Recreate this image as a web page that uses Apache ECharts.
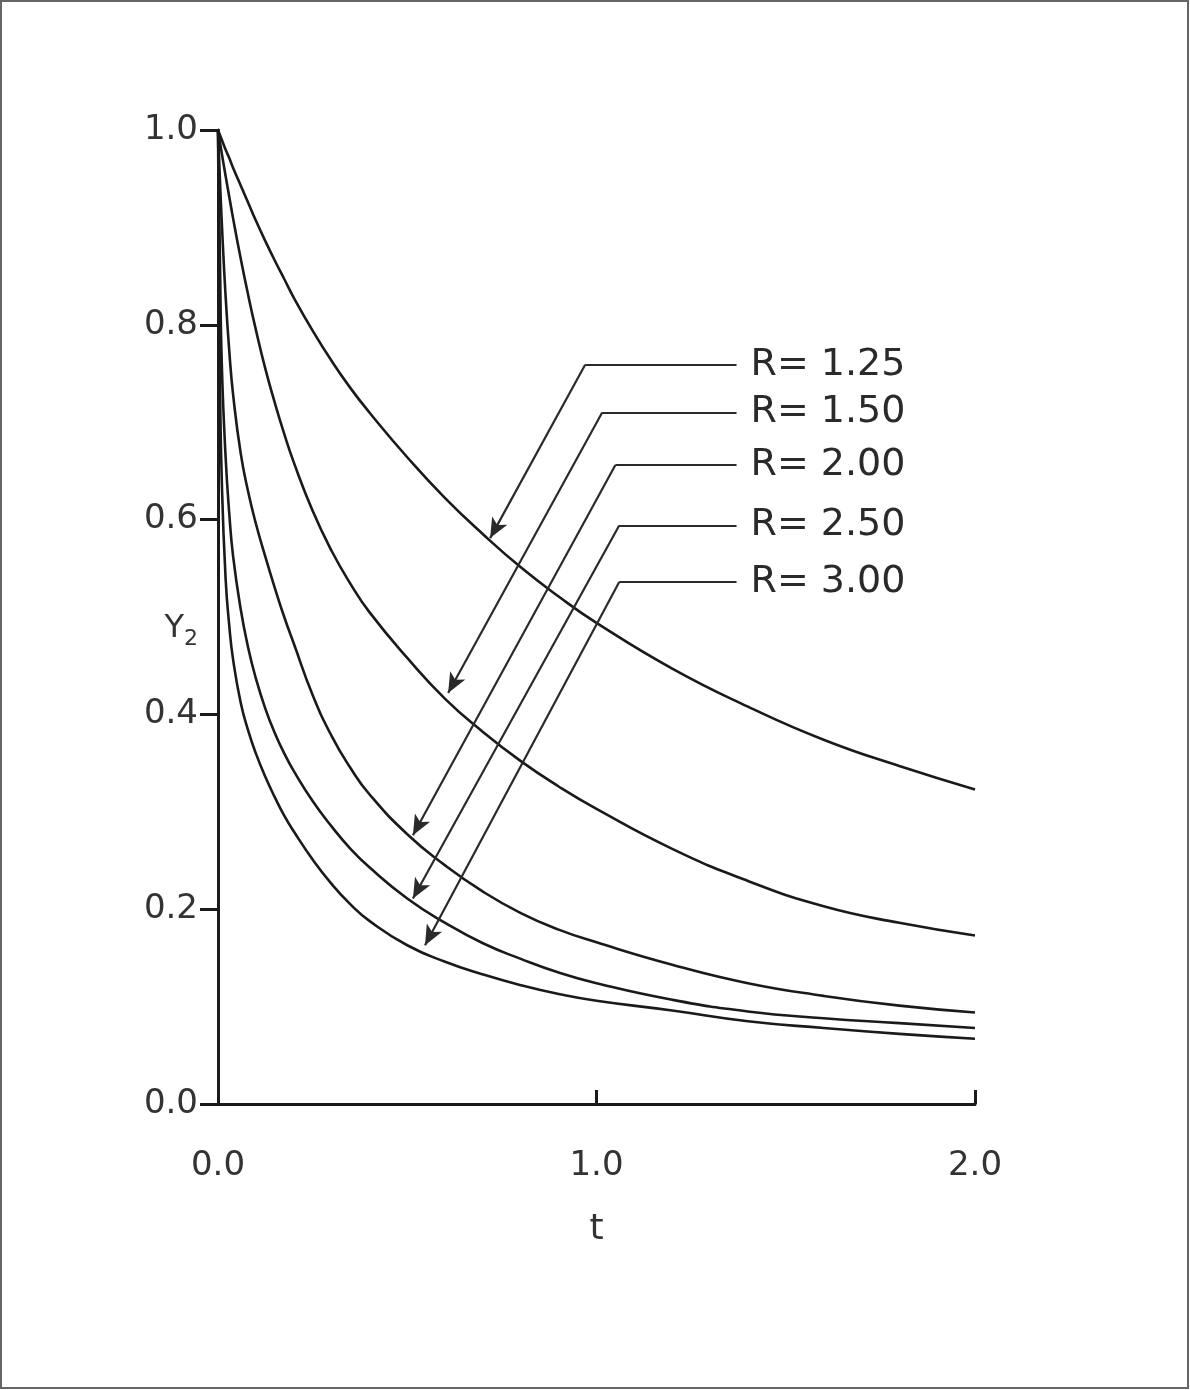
<!DOCTYPE html>
<html>
<head>
<meta charset="utf-8">
<title>Y2 vs t</title>
<script src="https://cdn.jsdelivr.net/npm/echarts@6/dist/echarts.min.js"></script>
<style>
html, body { margin: 0; padding: 0; background: #fff; }
#main { width: 1190px; height: 1390px; }
</style>
</head>
<body>
<div id="main"></div>
<script>
// t grid (finer near 0, the curves drop very fast there)
var tValues = [0, 0.005, 0.01, 0.02, 0.03, 0.04, 0.06, 0.08, 0.1, 0.125, 0.15, 0.175, 0.2, 0.25, 0.3, 0.35, 0.4, 0.5, 0.6, 0.7, 0.8, 0.9, 1.0, 1.2, 1.4, 1.6, 1.8, 2.0];

// Y2, one array per R
var yR125 = [1.0, 0.995, 0.990, 0.980, 0.971, 0.961, 0.943, 0.925, 0.907, 0.886, 0.866, 0.847, 0.828, 0.794, 0.763, 0.735, 0.710, 0.664, 0.622, 0.585, 0.551, 0.521, 0.494, 0.447, 0.408, 0.374, 0.347, 0.323];
var yR150 = [1.0, 0.988, 0.976, 0.953, 0.931, 0.909, 0.868, 0.830, 0.795, 0.755, 0.720, 0.688, 0.659, 0.609, 0.568, 0.534, 0.505, 0.458, 0.416, 0.382, 0.352, 0.326, 0.303, 0.262, 0.229, 0.203, 0.186, 0.173];
var yR200 = [1.0, 0.950, 0.905, 0.830, 0.772, 0.728, 0.668, 0.628, 0.596, 0.562, 0.530, 0.500, 0.473, 0.420, 0.378, 0.345, 0.318, 0.277, 0.245, 0.218, 0.196, 0.179, 0.166, 0.143, 0.124, 0.111, 0.101, 0.094];
var yR250 = [1.0, 0.870, 0.760, 0.665, 0.605, 0.562, 0.508, 0.468, 0.437, 0.406, 0.381, 0.360, 0.342, 0.311, 0.285, 0.262, 0.243, 0.211, 0.186, 0.165, 0.149, 0.135, 0.124, 0.107, 0.095, 0.088, 0.083, 0.078];
var yR300 = [1.0, 0.750, 0.640, 0.540, 0.490, 0.456, 0.412, 0.383, 0.360, 0.336, 0.315, 0.296, 0.280, 0.251, 0.226, 0.205, 0.188, 0.163, 0.146, 0.133, 0.122, 0.113, 0.106, 0.096, 0.085, 0.078, 0.072, 0.067];

var curveLabels = ['R= 1.25', 'R= 1.50', 'R= 2.00', 'R= 2.50', 'R= 3.00'];
var curves = [yR125, yR150, yR200, yR250, yR300];

// leader lines for the labels (data coords): elbow, horizontal run, arrow tip
var elbowT = [0.97, 1.015, 1.05, 1.06, 1.06];
var leaderY = [0.759, 0.710, 0.656, 0.594, 0.536];
var leaderEndT = 1.37;
var arrowT = [0.719, 0.608, 0.515, 0.515, 0.547];
var arrowY = [0.581, 0.422, 0.276, 0.211, 0.163];

var font = 'DejaVu Sans';
var ink = '#1a1a1a';

var chart = echarts.init(document.getElementById('main'));

var series = [];
for (var i = 0; i < curves.length; i++) {
    var pts = [];
    for (var j = 0; j < tValues.length; j++) {
        pts.push([tValues[j], curves[i][j]]);
    }
    series.push({
        name: curveLabels[i],
        type: 'line',
        data: pts,
        symbol: 'none',
        smooth: 0.5,
        lineStyle: { color: ink, width: 2.6 },
        emphasis: { disabled: true },
        markLine: {
            silent: true,
            animation: false,
            symbol: ['none', 'none'],
            lineStyle: { color: '#2a2a2a', width: 2.2, type: 'solid' },
            emphasis: { disabled: true },
            data: [
                [
                    { coord: [elbowT[i], leaderY[i]], symbol: 'none' },
                    {
                        coord: [leaderEndT, leaderY[i]], symbol: 'none',
                        label: {
                            show: true, position: 'end', distance: 14,
                            formatter: curveLabels[i],
                            fontSize: 38, color: '#2a2a2a', fontFamily: font
                        }
                    }
                ],
                [
                    { coord: [elbowT[i], leaderY[i]], symbol: 'none', label: { show: false } },
                    { coord: [arrowT[i], arrowY[i]], symbol: 'arrow', symbolSize: [13, 20], label: { show: false } }
                ]
            ]
        }
    });
}

var option = {
    animation: false,
    backgroundColor: '#fff',
    grid: { left: 218, right: 215, top: 130, bottom: 286, containLabel: false },
    xAxis: {
        type: 'value',
        min: 0, max: 2, interval: 1,
        axisLine: { show: true, onZero: false, lineStyle: { color: ink, width: 3 } },
        axisTick: { show: true, inside: true, length: 14, lineStyle: { color: ink, width: 3 } },
        splitLine: { show: false },
        axisLabel: {
            formatter: function (v) { return v.toFixed(1); },
            fontSize: 34, color: '#333', margin: 45, fontFamily: font
        },
        name: 't',
        nameLocation: 'middle',
        nameGap: 108,
        nameTextStyle: { fontSize: 36, color: '#333', fontFamily: font }
    },
    yAxis: {
        type: 'value',
        min: 0, max: 1, interval: 0.2,
        axisLine: { show: true, lineStyle: { color: ink, width: 3 } },
        axisTick: { show: true, length: 18, lineStyle: { color: ink, width: 3 } },
        splitLine: { show: false },
        axisLabel: {
            formatter: function (v) { return v.toFixed(1); },
            fontSize: 34, color: '#333', margin: 20, fontFamily: font
        },
        name: 'Y{s|2}',
        nameLocation: 'middle',
        nameRotate: 0,
        nameGap: 20,
        nameMoveOverlap: false,
        nameTextStyle: {
            fontSize: 32, color: '#333', fontFamily: font,
            padding: [24, 0, 0, 0],
            rich: { s: { fontSize: 22, color: '#333', fontFamily: font, padding: [20, 0, 0, 0] } }
        }
    },
    graphic: [{
        type: 'rect',
        shape: { x: 1, y: 1, width: 1187, height: 1387 },
        style: { fill: 'none', stroke: '#666', lineWidth: 2 },
        silent: true
    }],
    series: series
};

chart.setOption(option);
</script>
</body>
</html>
